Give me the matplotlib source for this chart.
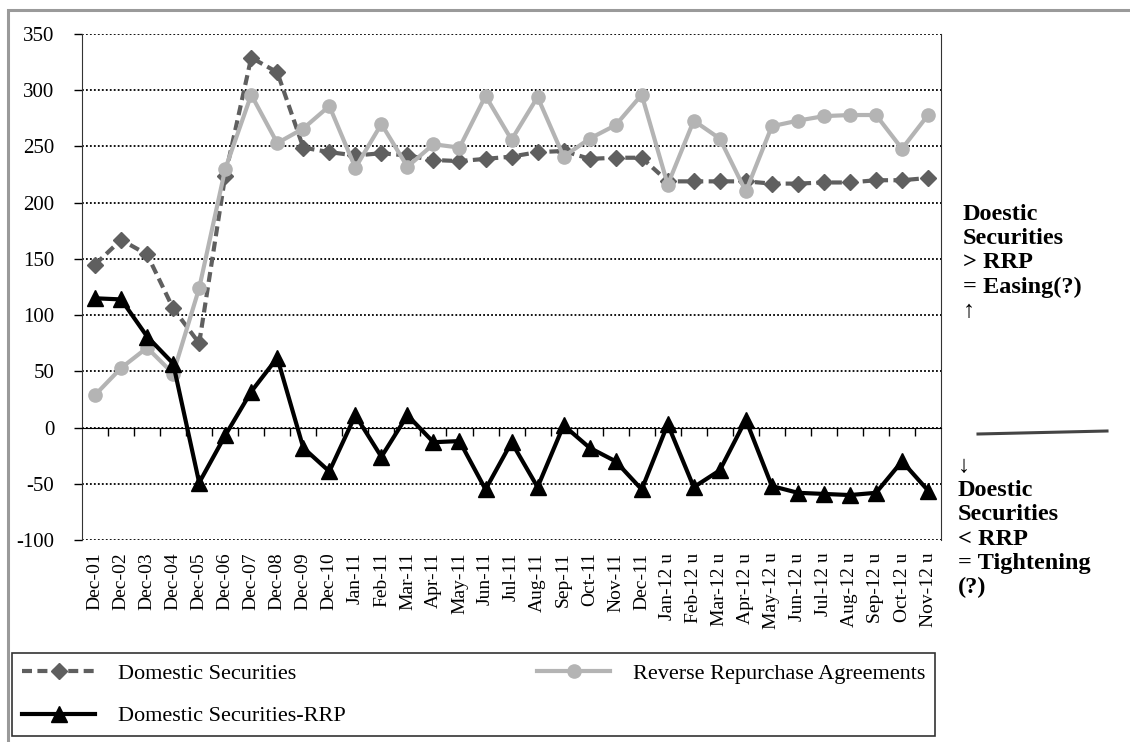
import matplotlib
matplotlib.use('Agg')
import matplotlib.pyplot as plt
import numpy as np
from matplotlib.lines import Line2D
from matplotlib.patches import Rectangle

plt.rcParams['font.family'] = ['Liberation Serif', 'DejaVu Serif']
plt.rcParams['axes.unicode_minus'] = False

# monthly / year-end points
months = ['Dec-01', 'Dec-02', 'Dec-03', 'Dec-04', 'Dec-05', 'Dec-06', 'Dec-07',
          'Dec-08', 'Dec-09', 'Dec-10',
          'Jan-11', 'Feb-11', 'Mar-11', 'Apr-11', 'May-11', 'Jun-11',
          'Jul-11', 'Aug-11', 'Sep-11', 'Oct-11', 'Nov-11', 'Dec-11',
          'Jan-12 u', 'Feb-12 u', 'Mar-12 u', 'Apr-12 u', 'May-12 u',
          'Jun-12 u', 'Jul-12 u', 'Aug-12 u', 'Sep-12 u', 'Oct-12 u',
          'Nov-12 u']

domestic = [145, 167, 154, 106, 75, 224, 329, 316, 249, 245,
            242, 244, 242, 238, 237, 239, 241, 245, 246, 239, 240, 240,
            219, 219, 219, 219, 217, 217, 218, 218, 220, 220, 222]

rrp = [29, 53, 71, 48, 124, 230, 296, 253, 266, 286,
       231, 270, 232, 252, 249, 295, 256, 294, 241, 257, 269, 296,
       216, 273, 257, 210, 268, 273, 277, 278, 278, 248, 278]

diff = [115, 114, 81, 57, -49, -7, 32, 62, -18, -39,
        11, -26, 11, -13, -12, -55, -13, -53, 2, -18, -30, -55,
        3, -53, -38, 7, -52, -58, -59, -60, -58, -30, -56]

x = np.arange(len(months))

fig = plt.figure(figsize=(11.3, 7.42), dpi=100)
ax = fig.add_axes([0.0726, 0.2722, 0.7602, 0.6819])

l_ds, = ax.plot(x, domestic, color='#5f5f5f', lw=3, ls=(0, (2.4, 1.3)),
                marker='D', ms=8, zorder=3, label='Domestic Securities')
l_rrp, = ax.plot(x, rrp, color='#b4b4b4', lw=3, marker='o', ms=9.5,
                 zorder=4, label='Reverse Repurchase Agreements')
l_diff, = ax.plot(x, diff, color='black', lw=3, marker='^', ms=12,
                  zorder=5, label='Domestic Securities-RRP')

ax.set_xlim(-0.5, len(months) - 0.5)
ax.set_ylim(-100, 350)
ax.set_yticks(np.arange(-100, 351, 50))
ax.yaxis.grid(True, color='black', ls=(0, (1, 1.2)), lw=1.3)
ax.set_axisbelow(True)
ax.tick_params(axis='y', direction='out', length=6, width=1, pad=14,
               labelsize=15)

# category axis crosses at zero, ticks between categories
ax.spines['bottom'].set_position(('data', 0))
ax.spines['top'].set_visible(False)
ax.spines['left'].set_color('#333333')
ax.spines['right'].set_color('#333333')
ax.spines['bottom'].set_color('black')
ax.set_xticks(x)
ax.set_xticklabels([])
ax.tick_params(axis='x', which='major', length=0)
ax.set_xticks(np.arange(0.5, len(months) - 1, 1), minor=True)
ax.tick_params(axis='x', which='minor', direction='out', length=6, width=1)

# month labels below the plot area
sec = ax.secondary_xaxis(0)
sec.set_xticks(x)
sec.set_xticklabels(months, rotation=90, fontsize=14)
sec.tick_params(length=0, pad=9)
sec.spines['bottom'].set_visible(False)

# outer frame
fig.add_artist(Rectangle((8 / 1130, -0.05), 1.1, 1.05 - 10 / 742,
                         transform=fig.transFigure, fill=False,
                         edgecolor='#9a9a9a', lw=2.2))

leg = fig.legend(handles=[l_ds, l_diff, l_rrp], ncol=2, mode='expand',
                 loc='upper left',
                 bbox_to_anchor=(12 / 1130, 1 - 653 / 742, 923 / 1130, 0),
                 bbox_transform=fig.transFigure, numpoints=1,
                 frameon=True, fancybox=False, edgecolor='black',
                 fontsize=16, handlelength=3.3, handletextpad=1.0,
                 labelspacing=1.0, borderpad=0.45, borderaxespad=0)
leg.get_frame().set_linewidth(1.2)

bold = dict(fontsize=17.5, fontweight='bold', linespacing=1.2,
            family=['Liberation Serif', 'DejaVu Serif'], va='top', ha='left')
fig.text(963 / 1130, 1 - 204 / 742,
         'Doestic\nSecurities\n> RRP\n= Easing(?)\n\u2191', **bold)
fig.text(958 / 1130, 1 - 456 / 742,
         '\u2193\nDoestic\nSecurities\n< RRP\n= Tightening\n(?)', **bold)
fig.add_artist(Line2D([978 / 1130, 1107 / 1130],
                      [1 - 434 / 742, 1 - 431 / 742],
                      transform=fig.transFigure, color='#444444', lw=2.2))

fig.savefig('out.png', dpi=100)
